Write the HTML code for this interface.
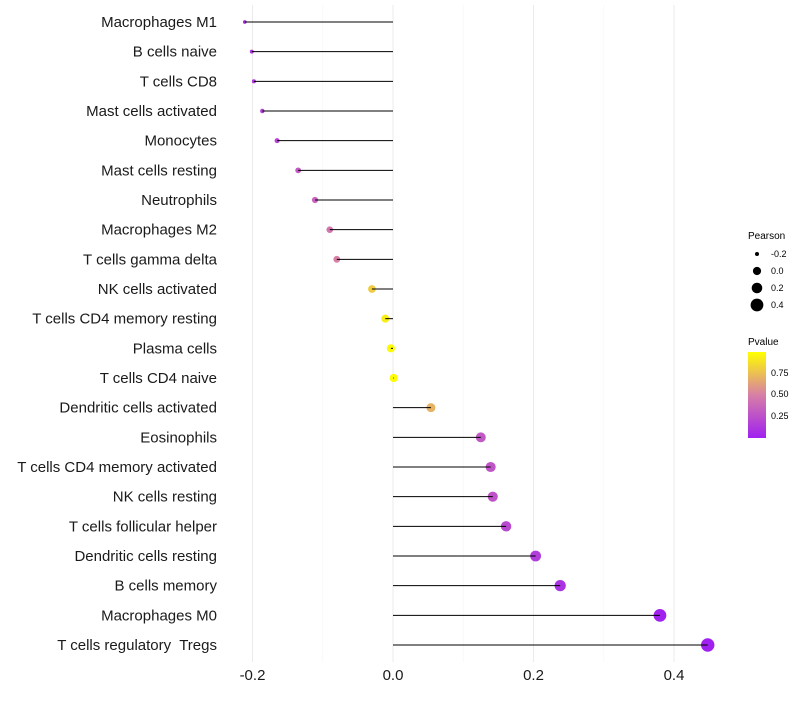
<!DOCTYPE html>
<html><head><meta charset="utf-8"><style>
body{margin:0;background:#fff;font-family:"Liberation Sans",sans-serif;}
text{white-space:pre;}
</style></head><body>
<svg id="chart" width="800" height="700" xmlns="http://www.w3.org/2000/svg">
<defs><linearGradient id="pg" x1="0" y1="1" x2="0" y2="0">
<stop offset="0" stop-color="#a020f0"/><stop offset="0.5" stop-color="#d77fa6"/><stop offset="1" stop-color="#ffff00"/></linearGradient></defs>
<g id="grid"></g><g id="dots"></g><g id="marks"></g><g id="labels"></g>
<g font-size="9" fill="#000">
<text x="748" y="239" font-size="10">Pearson</text>
<circle cx="757" cy="254" r="2"/><text x="771" y="257">-0.2</text>
<circle cx="757" cy="271" r="4.1"/><text x="771" y="274">0.0</text>
<circle cx="757" cy="288" r="5.3"/><text x="771" y="291">0.2</text>
<circle cx="757" cy="305" r="6.4"/><text x="771" y="308">0.4</text>
<text x="748" y="345" font-size="10">Pvalue</text>
<rect x="748" y="352" width="18" height="86" fill="url(#pg)"/>
<text x="771" y="376">0.75</text>
<text x="771" y="397">0.50</text>
<text x="771" y="419">0.25</text>
</g>
</svg>
<script>
const categories=["Macrophages M1","B cells naive","T cells CD8","Mast cells activated","Monocytes","Mast cells resting","Neutrophils","Macrophages M2","T cells gamma delta","NK cells activated","T cells CD4 memory resting","Plasma cells","T cells CD4 naive","Dendritic cells activated","Eosinophils","T cells CD4 memory activated","NK cells resting","T cells follicular helper","Dendritic cells resting","B cells memory","Macrophages M0","T cells regulatory  Tregs"];
const pearson=[-0.211,-0.201,-0.198,-0.186,-0.165,-0.135,-0.111,-0.090,-0.080,-0.030,-0.011,-0.003,0.001,0.054,0.125,0.139,0.142,0.161,0.203,0.238,0.380,0.448];
const pvalues=[0.10,0.12,0.13,0.15,0.20,0.30,0.36,0.45,0.50,0.80,0.93,0.98,0.99,0.70,0.30,0.28,0.27,0.22,0.15,0.10,0.01,0.002];
const xTicks=[-0.2,0.0,0.2,0.4];
const xTickLabels=["-0.2","0.0","0.2","0.4"];
const NS="http://www.w3.org/2000/svg";
const x=v=>393+v*702.5;
const y=i=>22+i*(623/21);
const rad=v=>Math.sqrt(Math.max(16.7+63*v,1));
function lerp(a,b,t){return a.map((c,i)=>Math.round(c+(b[i]-c)*t));}
function col(p){const s=[[160,32,240],[215,127,166],[255,255,0]];const t=Math.min(Math.max(p,0),1)*2;const k=t<1?0:1;const c=lerp(s[k],s[k+1],t-k);return `rgb(${c.join(',')})`;}
function mk(tag,attrs,parent){const e=document.createElementNS(NS,tag);for(const k in attrs)e.setAttribute(k,attrs[k]);document.getElementById(parent).appendChild(e);return e;}
[-0.2,-0.1,0,0.1,0.2,0.3,0.4].forEach(v=>{const major=xTicks.some(t=>Math.abs(t-v)<1e-9);
const l=mk('line',{x1:x(v),x2:x(v),y1:5,y2:662,stroke:major?'#ebebeb':'#f5f5f5','stroke-width':major?1:0.6},'grid');

});
xTicks.forEach((v,i)=>{const t=mk('text',{x:x(v),y:680,'text-anchor':'middle','font-size':15,fill:'#1a1a1a'},'labels');t.textContent=xTickLabels[i];

});
categories.forEach((c,i)=>{
const t=mk('text',{x:217,y:y(i)+5,'text-anchor':'end','font-size':15,fill:'#1a1a1a'},'labels');t.textContent=c;


const d=mk('circle',{cx:x(pearson[i]),cy:y(i),r:rad(pearson[i]),fill:col(pvalues[i])},'dots');


const l=mk('line',{x1:x(0),x2:x(pearson[i]),y1:y(i),y2:y(i),stroke:'#000','stroke-width':1},'marks');


});
</script>
</body></html>
